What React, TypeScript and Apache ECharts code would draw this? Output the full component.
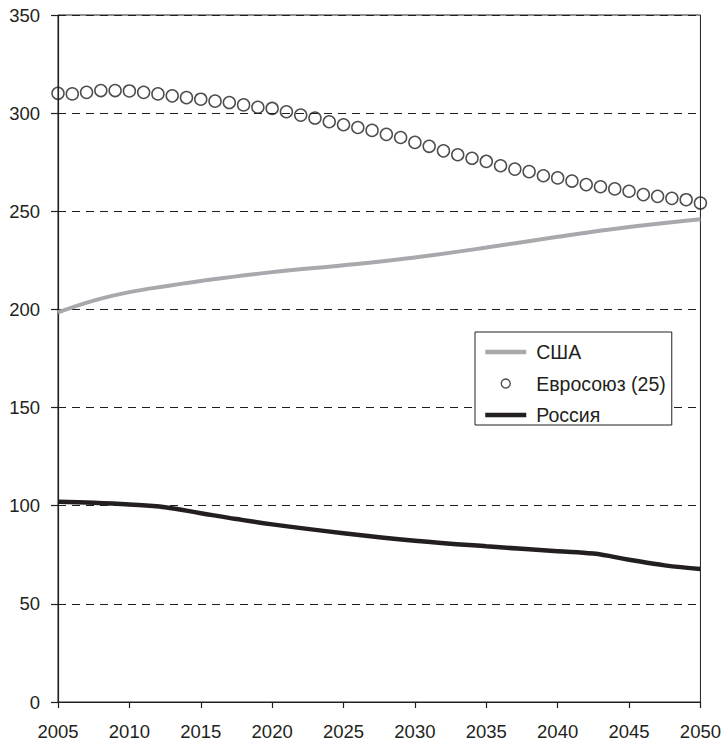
import React, { useEffect, useRef } from "react";
import * as echarts from "echarts";

const euYears: number[] = [
  2005, 2006, 2007, 2008, 2009, 2010, 2011, 2012, 2013, 2014, 2015, 2016, 2017, 2018, 2019, 2020,
  2021, 2022, 2023, 2024, 2025, 2026, 2027, 2028, 2029, 2030, 2031, 2032, 2033, 2034, 2035, 2036,
  2037, 2038, 2039, 2040, 2041, 2042, 2043, 2044, 2045, 2046, 2047, 2048, 2049, 2050,
];
const euValues: number[] = [
  310.1, 309.8, 310.6, 311.5, 311.5, 311.3, 310.6, 309.8, 308.8, 307.9, 307.1, 306.1, 305.4, 304.2,
  303.0, 302.4, 300.7, 299.0, 297.5, 295.6, 294.1, 292.7, 291.2, 289.2, 287.6, 285.1, 283.1, 280.8,
  278.8, 277.0, 275.4, 273.2, 271.5, 270.2, 268.1, 267.0, 265.4, 263.6, 262.5, 261.4, 260.2, 258.5,
  257.6, 256.6, 255.9, 254.2,
];

const usaYears: number[] = [2005, 2007.5, 2010, 2012.5, 2015, 2020, 2025, 2030, 2035, 2040, 2045, 2050];
const usaValues: number[] = [198.5, 204.5, 208.8, 211.8, 214.5, 219, 222.5, 226.5, 231.5, 237, 242, 246];

const rusYears: number[] = [2005, 2007.5, 2010, 2012.5, 2015, 2017.5, 2020, 2025, 2030, 2035, 2040, 2042.5, 2045, 2047.5, 2050];
const rusValues: number[] = [102, 101.5, 100.6, 99.2, 96.2, 93.2, 90.5, 86, 82.2, 79.3, 76.8, 75.6, 72.5, 69.6, 67.8];

const seriesNames: string[] = ["США", "Евросоюз (25)", "Россия"];

const pair = (xs: number[], ys: number[]) => xs.map((x, i) => [x, ys[i]]);

const INK = "#231f20";
const GREY = "#a8a9ad";
const FONT = '"Liberation Sans", Arial, Helvetica, sans-serif';
const hidden = { color: "transparent", borderColor: "transparent", borderWidth: 0 };

export default function App() {
  const ref = useRef<HTMLDivElement>(null);

  useEffect(() => {
    if (!ref.current) return;
    const chart = echarts.init(ref.current, undefined, { renderer: "svg" });
    chart.setOption({
      animation: false,
      backgroundColor: "#ffffff",
      textStyle: { fontFamily: FONT },
      grid: {
        left: 58,
        right: 21,
        top: 15,
        bottom: 42,
        show: true,
        borderColor: INK,
        borderWidth: 1,
        backgroundColor: "transparent",
      },
      xAxis: {
        type: "value",
        min: 2005,
        max: 2050,
        interval: 5,
        axisLine: { show: true, lineStyle: { color: INK, width: 1.2 } },
        axisTick: { show: true, length: 6, lineStyle: { color: INK, width: 1.2 } },
        axisLabel: {
          color: INK,
          fontSize: 18.5,
          fontFamily: FONT,
          margin: 20,
          formatter: (v: number) => String(v),
        },
        splitLine: { show: false },
      },
      yAxis: {
        type: "value",
        min: 0,
        max: 350,
        interval: 50,
        axisLine: { show: true, lineStyle: { color: INK, width: 1.2 } },
        axisTick: { show: true, length: 7, lineStyle: { color: INK, width: 1.2 } },
        axisLabel: {
          color: INK,
          fontSize: 18.5,
          fontFamily: FONT,
          margin: 18,
        },
        splitLine: {
          show: true,
          lineStyle: { color: "#1e1e1e", width: 1, type: [8, 6] },
        },
      },
      legend: {
        orient: "vertical",
        left: 475,
        top: 332,
        backgroundColor: "#ffffff",
        borderColor: INK,
        borderWidth: 1,
        padding: [10, 6, 0, 8],
        itemWidth: 41,
        itemHeight: 9,
        itemGap: 11.5,
        textStyle: {
          color: INK,
          fontSize: 19.5,
          fontFamily: FONT,
          lineHeight: 20,
          padding: [0, 0, 0, 5],
        },
        data: [
          { name: seriesNames[0], itemStyle: hidden, lineStyle: { color: GREY, width: 4.5 } },
          { name: seriesNames[1], icon: "circle", itemStyle: { color: "transparent", borderColor: INK, borderWidth: 1.4 } },
          { name: seriesNames[2], itemStyle: hidden, lineStyle: { color: INK, width: 4.5 } },
        ],
      },
      series: [
        {
          name: seriesNames[0],
          type: "line",
          data: pair(usaYears, usaValues),
          smooth: 0.4,
          symbol: "none",
          showSymbol: false,
          lineStyle: { color: GREY, width: 4 },
          itemStyle: { color: GREY },
          z: 3,
        },
        {
          name: seriesNames[1],
          type: "scatter",
          data: pair(euYears, euValues),
          symbol: "circle",
          symbolSize: 12,
          itemStyle: { color: "transparent", borderColor: INK, borderWidth: 1.5 },
          z: 5,
        },
        {
          name: seriesNames[2],
          type: "line",
          data: pair(rusYears, rusValues),
          smooth: 0.4,
          symbol: "none",
          showSymbol: false,
          lineStyle: { color: INK, width: 4.5 },
          itemStyle: { color: INK },
          z: 4,
        },
      ],
    });
    return () => chart.dispose();
  }, []);

  return (
    <div
      ref={ref}
      style={{ position: "fixed", left: 0, top: 0, width: 724, height: 744, background: "#fff" }}
    />
  );
}
